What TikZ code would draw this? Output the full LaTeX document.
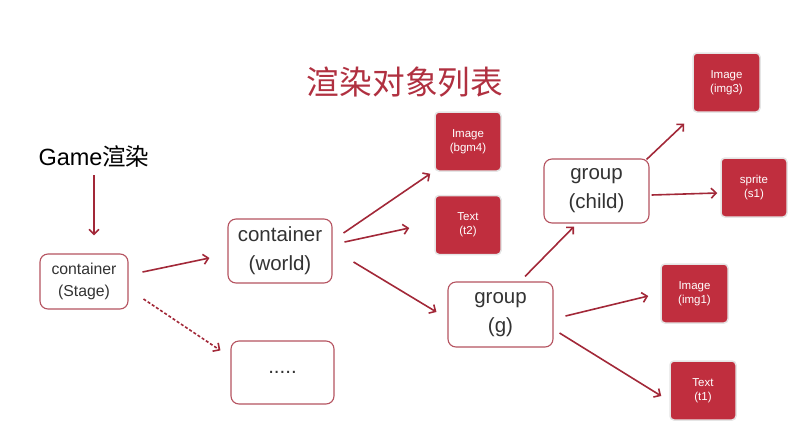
\documentclass[tikz,border=0pt]{standalone}
\usepackage{fontspec}
\setmainfont{Liberation Sans}
\newfontfamily\cjk{Noto Sans CJK SC}
\usetikzlibrary{arrows.meta, positioning}
\usepackage{xcolor}
\definecolor{boxRed}{RGB}{192,46,62}
\definecolor{lineRed}{RGB}{162,40,56}
\definecolor{titleRed}{RGB}{176,48,64}
\tikzset{
    >={Straight Barb[length=5pt,width=10pt]},
    % Boxes
    objbox/.style={rectangle, draw=lineRed!80, line width=1.1pt, fill=white,
                   rounded corners=8pt, align=center, text=black!80, inner sep=0pt},
    bigbox/.style={objbox, minimum width=104pt, minimum height=64pt,
                   font=\fontsize{20.5}{29}\selectfont},
    smallbox/.style={objbox, minimum width=88pt, minimum height=55pt,
                     font=\fontsize{15.8}{22}\selectfont},
    leaf/.style={rectangle, draw=black!10, line width=1.5pt, fill=boxRed,
                 rounded corners=4pt, minimum width=66pt, minimum height=59pt,
                 align=center, text=white, inner sep=0pt,
                 font=\fontsize{11.5}{14}\selectfont},
    % Flow
    flow/.style={->, line width=1.6pt, lineRed}
}
\begin{document}
\begin{tikzpicture}[x=1pt, y=-1pt]
\useasboundingbox (0,0) rectangle (798,421);

% Titles
\node[font=\fontsize{32.7}{36}\selectfont\cjk, text=titleRed] (title) at (405,82) {渲染对象列表};
\node[font=\fontsize{23.5}{28}\selectfont, text=black] (game) at (94,157) {Game{\cjk 渲染}};

% Nodes
\node[smallbox] (stage) at (84,281.5) {container\\(Stage)};
\node[bigbox] (world) at (280,251) {container\\(world)};
\node[bigbox, minimum width=103pt, minimum height=63pt] (more) at (282.5,372.5) {.....};
\node[leaf] (bgm4) at (468,141.5) {Image\\(bgm4)};
\node[leaf] (t2) at (468,225) {Text\\(t2)};
\node[bigbox, minimum width=105pt, minimum height=65pt] (g) at (500.5,314.5) {group\\(g)};
\node[bigbox, minimum width=105pt] (child) at (596.5,191) {group\\(child)};
\node[leaf, minimum width=67pt] (img3) at (726.5,82.5) {Image\\(img3)};
\node[leaf] (s1) at (754,187.5) {sprite\\(s1)};
\node[leaf, minimum width=67pt] (img1) at (694.5,293.5) {Image\\(img1)};
\node[leaf] (t1) at (703,390.5) {Text\\(t1)};

% Arrows
\draw[flow] ([shift={(0,4)}]game.south) -- ([shift={(10,-18)}]stage.north);
\draw[flow] ([shift={(14,-9.5)}]stage.east) -- ([shift={(-18,7)}]world.west);
\draw[flow, dashed, dash pattern=on 3pt off 2pt] ([shift={(15,17.5)}]stage.east) -- ([shift={(-10,10)}]more.north west);
\draw[flow] ([shift={(11,-18)}]world.east) -- ([shift={(-4,2)}]bgm4.south west);
\draw[flow] ([shift={(12,-9)}]world.east) -- ([shift={(-25,3)}]t2.west);
\draw[flow] ([shift={(21,11)}]world.east) -- ([shift={(-11,-2.5)}]g.west);
\draw[flow] ([shift={(24.5,-5)}]g.north) -- ([shift={(-22.5,3)}]child.south);
\draw[flow] ([shift={(-3,1)}]child.north east) -- ([shift={(-8,11)}]img3.south west);
\draw[flow] ([shift={(2,4)}]child.east) -- ([shift={(-3,5.5)}]s1.west);
\draw[flow] ([shift={(12,1.5)}]g.east) -- ([shift={(-12,2.5)}]img1.west);
\draw[flow] ([shift={(6,18.5)}]g.east) -- ([shift={(-8,5.5)}]t1.west);

\end{tikzpicture}
\end{document}
